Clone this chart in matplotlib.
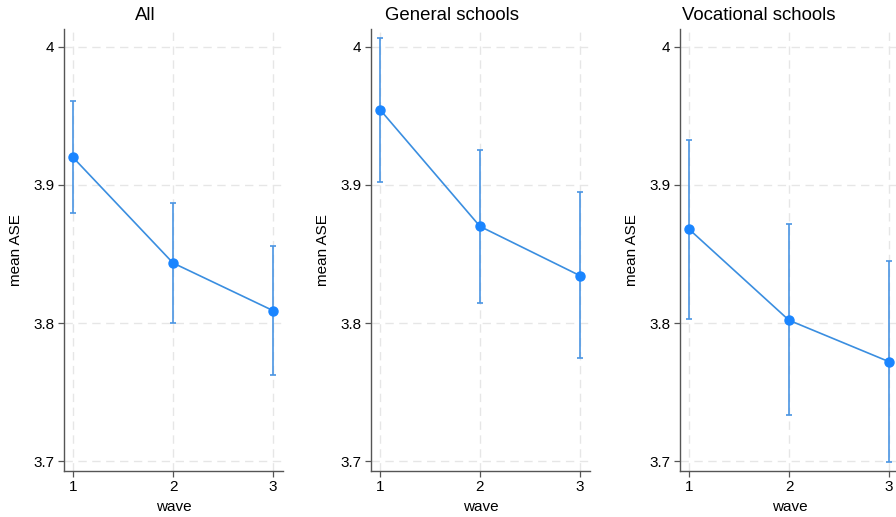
import matplotlib
matplotlib.use("Agg")
import matplotlib.pyplot as plt

waves = [1, 2, 3]
titles = ["All", "General schools", "Vocational schools"]
means = [
    [3.920, 3.8435, 3.809],
    [3.9546, 3.870, 3.8343],
    [3.868, 3.802, 3.772],
]
ci_low = [
    [3.880, 3.800, 3.762],
    [3.9024, 3.8147, 3.7744],
    [3.803, 3.7333, 3.699],
]
ci_high = [
    [3.961, 3.887, 3.856],
    [4.0067, 3.925, 3.8947],
    [3.9326, 3.8715, 3.845],
]
yticks = [3.7, 3.8, 3.9, 4.0]
ytick_labels = ["3.7", "3.8", "3.9", "4"]

plt.rcParams['font.family'] = ['Liberation Sans', 'DejaVu Sans']

W, H = 896, 517
fig = plt.figure(figsize=(W / 100, H / 100), dpi=100)

lefts = [64, 371, 680]
title_x = [145, 452, 759]
ax_w = 219
ax_bottom = 471
ax_top = 29

line_col = "#3a8ee0"
marker_col = "#1a85ff"
err_col = "#4a95e3"
grid_col = "#e6e6e6"
spine_col = "#555555"

for i in range(3):
    ax = fig.add_axes([lefts[i] / W, 1 - ax_bottom / H, ax_w / W, (ax_bottom - ax_top) / H])
    m = means[i]
    lo = [m[k] - ci_low[i][k] for k in range(3)]
    hi = [ci_high[i][k] - m[k] for k in range(3)]
    ax.errorbar(waves, m, yerr=[lo, hi], fmt="none", ecolor=err_col,
                elinewidth=1.2, capsize=2.3, capthick=1.2, zorder=2)
    ax.plot(waves, m, color=line_col, lw=1.2, zorder=3)
    ax.plot(waves, m, "o", color=marker_col, ms=6.5, zorder=4)
    ax.set_xlim(0.91, 3.10)
    ax.set_ylim(3.6928, 4.013)
    ax.set_xticks(waves)
    ax.set_xticklabels([str(w) for w in waves])
    ax.set_yticks(yticks)
    ax.set_yticklabels(ytick_labels)
    ax.grid(True, color=grid_col, linestyle=(0, (6, 4)), linewidth=1.0, zorder=0)
    ax.set_axisbelow(True)
    for s in ["top", "right"]:
        ax.spines[s].set_visible(False)
    for s in ["left", "bottom"]:
        ax.spines[s].set_color(spine_col)
        ax.spines[s].set_linewidth(1.0)
    ax.tick_params(axis="both", direction="out", length=4.3, width=0.9,
                   color=spine_col, labelsize=11, pad=2.5)
    fig.text((lefts[i] - 48) / W, 1 - 250 / H, "mean ASE", rotation=90,
             ha="center", va="center", fontsize=11)
    cx = lefts[i] + 109.5
    fig.text(cx / W, 1 - 507 / H, "wave", ha="center", va="center", fontsize=11)
    fig.text(title_x[i] / W, 1 - 15 / H, titles[i], ha="center", va="center", fontsize=13.4)

fig.savefig("out.png", dpi=100)
